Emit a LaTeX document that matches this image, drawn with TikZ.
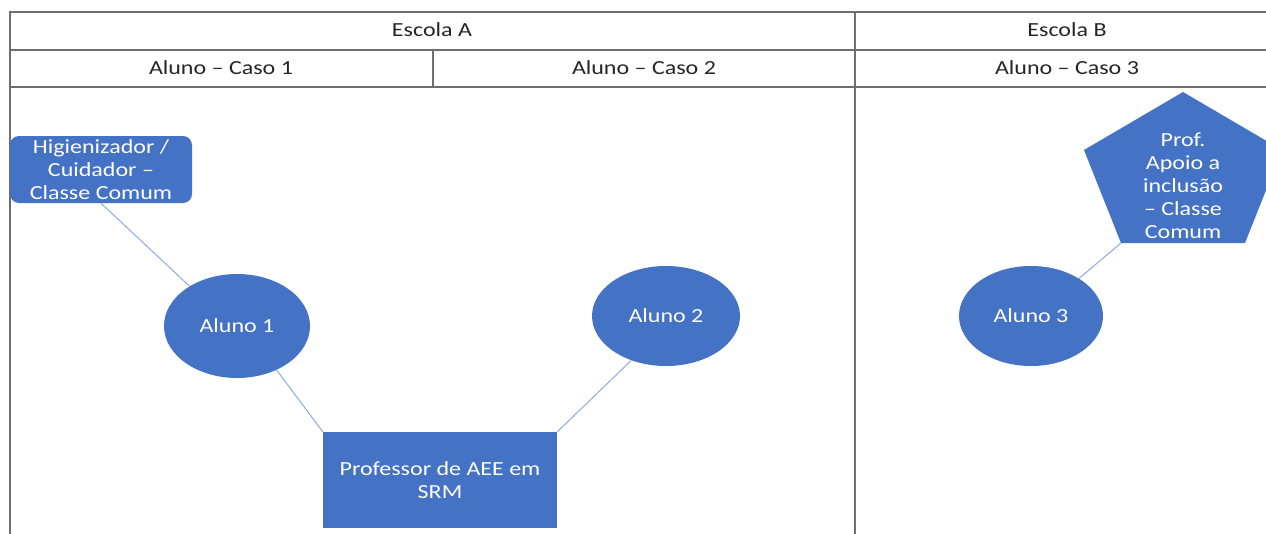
\documentclass[tikz,border=0pt]{standalone}
\usepackage{fontspec}
\setmainfont{Carlito}[FakeStretch=1.2]
\usetikzlibrary{shapes.geometric}
\definecolor{blueA}{HTML}{4472C4}
\definecolor{linkc}{HTML}{8FAADC}
\definecolor{gridc}{HTML}{6E6E6E}
\tikzset{
  grid line/.style={draw=gridc, line width=1.1pt},
  head/.style={font=\fontsize{20}{23}\selectfont, text=black!85, inner sep=0pt},
  blob/.style={ellipse, fill=blueA, text=white, inner sep=0pt,
    font=\fontsize{20}{23}\selectfont},
  boxA/.style={rectangle, fill=blueA, text=white, inner sep=0pt, align=center,
    font=\fontsize{20}{23}\selectfont},
  link/.style={draw=linkc, line width=1pt}
}
\begin{document}
\begin{tikzpicture}[x=1pt,y=-1pt]
\useasboundingbox (0,0) rectangle (1266,533);
\clip (0,0) rectangle (1266,533);
% table
\fill[white] (0,0) rectangle (1266,533);
\draw[grid line] (10,600) -- (10,12) -- (1300,12);
\draw[grid line] (10,50) -- (1300,50);
\draw[grid line] (10,87) -- (1300,87);
\draw[grid line] (855,12) -- (855,600);
\draw[grid line] (433,50) -- (433,87);
\node[head] (escA) at (432,30) {Escola A};
\node[head] (escB) at (1067,30) {Escola B};
\node[head] (c1) at (221,68) {Aluno – Caso 1};
\node[head] (c2) at (644,68) {Aluno – Caso 2};
\node[head] (c3) at (1067,68) {Aluno – Caso 3};
% nodes
\node[boxA, rounded corners=9pt, minimum width=182pt, minimum height=67pt] (hig) at (101,169.5)
  {Higienizador /\\Cuidador –\\Classe Comum};
\node[blob, minimum width=146pt, minimum height=104pt] (al1) at (237,326) {Aluno 1};
\node[blob, minimum width=148pt, minimum height=100pt] (al2) at (666,316) {Aluno 2};
\node[blob, minimum width=144pt, minimum height=100pt] (al3) at (1031,316) {Aluno 3};
\node[boxA, minimum width=234pt, minimum height=96pt] (prof) at (440,480)
  {Professor de AEE em\\SRM};
% pentagon
\coordinate (ptop) at (1183,92);
\coordinate (pleft) at (1084,150);
\coordinate (pbl) at (1121,243);
\coordinate (pbr) at (1245,243);
\coordinate (pright) at (1282,150);
\fill[blueA] (ptop) -- (pleft) -- (pbl) -- (pbr) -- (pright) -- cycle;
\node[text=white, align=center, inner sep=0pt, font=\fontsize{20}{23}\selectfont] (pent) at (1183,186)
  {Prof.\\Apoio a\\inclusão\\– Classe\\Comum};
% connectors
\draw[link] (hig.south) -- (al1.140);
\draw[link] (al1.-48) -- (prof.north west);
\draw[link] (al2.-128) -- (prof.north east);
\draw[link] (al3.38) -- (pbl);
\end{tikzpicture}
\end{document}
